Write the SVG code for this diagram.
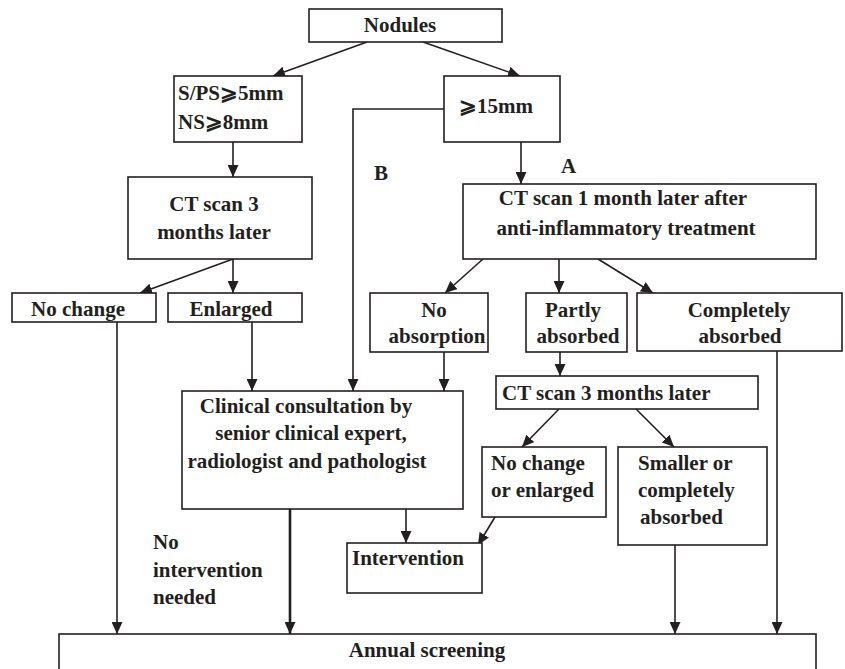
<svg xmlns="http://www.w3.org/2000/svg" width="845" height="669" viewBox="0 0 845 669">
<style>
.b{fill:#fff;stroke:#231f20;stroke-width:1.6}
.t{font-family:"Liberation Serif","Times New Roman","DejaVu Serif",serif;font-weight:bold;font-size:21px;fill:#231f20}
.m{text-anchor:middle}
.c{fill:none;stroke:#231f20;stroke-width:1.6}
.k{stroke-width:2.6}
</style>
<defs>
<marker id="ar" markerUnits="userSpaceOnUse" markerWidth="13" markerHeight="11" refX="12" refY="5.5" orient="auto">
<path d="M0,0 L12,5.5 L0,11 Z" fill="#231f20"/>
</marker>
</defs>
<rect width="845" height="669" fill="#fff"/>
<g id="connectors">
<line class="c" x1="367" y1="42" x2="273" y2="76" marker-end="url(#ar)"/>
<line class="c" x1="423" y1="42" x2="520" y2="76" marker-end="url(#ar)"/>
<line class="c" x1="233" y1="142" x2="233" y2="177" marker-end="url(#ar)"/>
<line class="c" x1="521" y1="142" x2="521" y2="184" marker-end="url(#ar)"/>
<polyline class="c" points="444,109 353,109 353,391" marker-end="url(#ar)"/>
<line class="c" x1="233" y1="259" x2="140" y2="293" marker-end="url(#ar)"/>
<line class="c" x1="233" y1="259" x2="233" y2="293" marker-end="url(#ar)"/>
<line class="c" x1="483" y1="259" x2="445" y2="293" marker-end="url(#ar)"/>
<line class="c" x1="559" y1="259" x2="559" y2="293" marker-end="url(#ar)"/>
<line class="c" x1="598" y1="259" x2="653" y2="293" marker-end="url(#ar)"/>
<line class="c" x1="117" y1="322" x2="117" y2="634" marker-end="url(#ar)"/>
<line class="c" x1="252" y1="322" x2="252" y2="391" marker-end="url(#ar)"/>
<line class="c" x1="444" y1="352" x2="444" y2="391" marker-end="url(#ar)"/>
<line class="c" x1="560" y1="352" x2="560" y2="376" marker-end="url(#ar)"/>
<line class="c" x1="777" y1="351" x2="777" y2="634" marker-end="url(#ar)"/>
<line class="c k" x1="290" y1="509" x2="290" y2="634" marker-end="url(#ar)"/>
<line class="c" x1="406" y1="509" x2="406" y2="543" marker-end="url(#ar)"/>
<line class="c" x1="559" y1="409" x2="522" y2="447" marker-end="url(#ar)"/>
<line class="c" x1="636" y1="409" x2="674" y2="447" marker-end="url(#ar)"/>
<line class="c" x1="495" y1="517" x2="478" y2="545" marker-end="url(#ar)"/>
<line class="c" x1="675" y1="545" x2="675" y2="634" marker-end="url(#ar)"/>
</g>
<g id="nodules"><rect class="b" x="309" y="9" width="193" height="33"/><text class="t m" x="400" y="32">Nodules</text></g>
<g id="sps"><rect class="b" x="174" y="76" width="128" height="66"/><text class="t" x="178" y="100">S/PS⩾5mm</text><text class="t" x="178" y="129">NS⩾8mm</text></g>
<g id="ge15"><rect class="b" x="444" y="76" width="116" height="66"/><text class="t" x="459" y="113">⩾15mm</text></g>
<g id="labelA"><text class="t" x="561" y="173">A</text></g>
<g id="labelB"><text class="t" x="374" y="180">B</text></g>
<g id="ct3"><rect class="b" x="128" y="177" width="184" height="82"/><text class="t m" x="214" y="211">CT scan 3</text><text class="t m" x="214" y="239">months later</text></g>
<g id="ct1"><rect class="b" x="463" y="184" width="353" height="75"/><text class="t m" x="623" y="205">CT scan 1 month later after</text><text class="t m" x="626" y="235">anti-inflammatory treatment</text></g>
<g id="nochange"><rect class="b" x="12" y="293" width="144" height="29"/><text class="t m" x="78" y="316">No change</text></g>
<g id="enlarged"><rect class="b" x="168" y="293" width="134" height="29"/><text class="t m" x="231" y="316">Enlarged</text></g>
<g id="noabs"><rect class="b" x="370" y="293" width="118" height="59"/><text class="t m" x="434" y="317">No</text><text class="t m" x="437" y="343">absorption</text></g>
<g id="partly"><rect class="b" x="526" y="293" width="101" height="59"/><text class="t m" x="573" y="317">Partly</text><text class="t m" x="578" y="343">absorbed</text></g>
<g id="complete"><rect class="b" x="637" y="293" width="205" height="58"/><text class="t m" x="739" y="317">Completely</text><text class="t m" x="740" y="343">absorbed</text></g>
<g id="consult"><rect class="b" x="182" y="391" width="281" height="118"/><text class="t m" x="306" y="413">Clinical consultation by</text><text class="t m" x="311" y="440">senior clinical expert,</text><text class="t m" x="307" y="468">radiologist and pathologist</text></g>
<g id="ct3b"><rect class="b" x="496" y="376" width="262" height="33"/><text class="t" x="502" y="400">CT scan 3 months later</text></g>
<g id="ncoe"><rect class="b" x="482" y="447" width="124" height="70"/><text class="t" x="491" y="470">No change</text><text class="t" x="491" y="497">or enlarged</text></g>
<g id="smaller"><rect class="b" x="618" y="447" width="149" height="98"/><text class="t" x="638" y="470">Smaller or</text><text class="t" x="638" y="497">completely</text><text class="t" x="640" y="524">absorbed</text></g>
<g id="intervention"><rect class="b" x="347" y="543" width="135" height="50"/><text class="t" x="352" y="565">Intervention</text></g>
<g id="nointerv"><text class="t" x="153" y="549">No</text><text class="t" x="153" y="577">intervention</text><text class="t" x="153" y="604">needed</text></g>
<g id="annual"><rect class="b" x="59" y="634" width="757" height="40"/><text class="t m" x="427" y="657">Annual screening</text></g>
</svg>
